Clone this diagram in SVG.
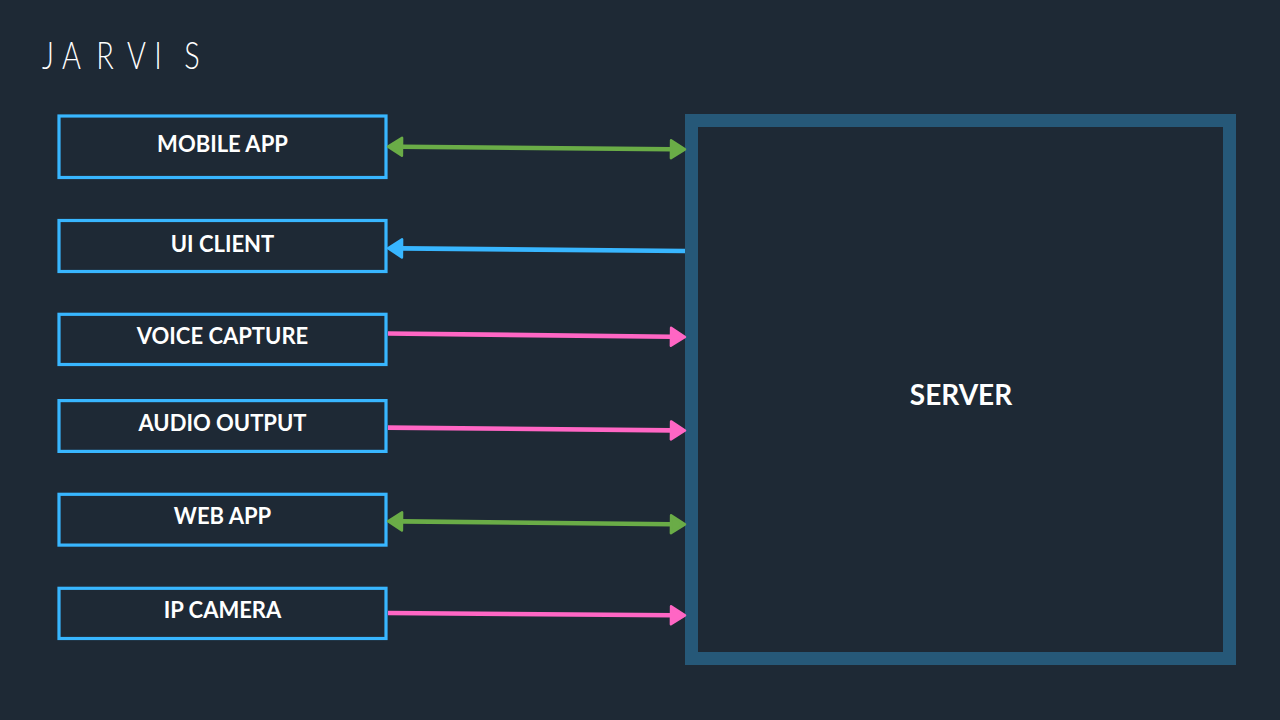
<svg xmlns="http://www.w3.org/2000/svg" width="1280" height="720" viewBox="0 0 1280 720">
  <style>
    .node rect { fill: none; stroke: #38b6ff; stroke-width: 3.2; }
    .label { font-family: "Lato", "Open Sans", "Liberation Sans", sans-serif; font-weight: 700; font-size: 22px; fill: #ffffff; text-anchor: middle; }
    .server-label { font-family: "Lato", "Open Sans", "Liberation Sans", sans-serif; font-weight: 700; font-size: 28px; fill: #ffffff; text-anchor: middle; }
    .logo { font-family: "Lato", "Inter", "Liberation Sans", sans-serif; font-weight: 300; font-size: 37px; fill: #ffffff; text-anchor: middle; }
    .conn { fill: none; stroke-width: 4.6; }
    .green { stroke: #6aac47; }
    .blue { stroke: #38b6ff; }
    .pink { stroke: #ff66c4; }
  </style>
  <defs>
    <marker id="ah-green" viewBox="0 0 18 22" markerUnits="userSpaceOnUse" markerWidth="18" markerHeight="22" refX="2" refY="11" orient="auto-start-reverse">
      <path d="M2,2 L16,11 L2,20 Z" fill="#6aac47" stroke="#6aac47" stroke-width="2.5" stroke-linejoin="round"/>
    </marker>
    <marker id="ah-blue" viewBox="0 0 18 22" markerUnits="userSpaceOnUse" markerWidth="18" markerHeight="22" refX="2" refY="11" orient="auto-start-reverse">
      <path d="M2,2 L16,11 L2,20 Z" fill="#38b6ff" stroke="#38b6ff" stroke-width="2.5" stroke-linejoin="round"/>
    </marker>
    <marker id="ah-pink" viewBox="0 0 18 22" markerUnits="userSpaceOnUse" markerWidth="18" markerHeight="22" refX="2" refY="11" orient="auto-start-reverse">
      <path d="M2,2 L16,11 L2,20 Z" fill="#ff66c4" stroke="#ff66c4" stroke-width="2.5" stroke-linejoin="round"/>
    </marker>
  </defs>

  <rect x="0" y="0" width="1280" height="720" fill="#1e2935"/>

  <text class="logo" transform="scale(0.78,1)" x="61.5 91.7 134.6 175 202.6 246.2" y="69">JARVIS</text>

  <g id="server">
    <rect x="691.5" y="120.5" width="538" height="538" fill="#1e2935" stroke="#265878" stroke-width="13"/>
    <text class="server-label" x="961" y="405">SERVER</text>
  </g>

  <g id="mobile-app" class="node">
    <rect x="59" y="116" width="327" height="61.5"/>
    <text class="label" x="222.5" y="151.5">MOBILE APP</text>
  </g>
  <g id="ui-client" class="node">
    <rect x="59" y="220.5" width="327" height="51"/>
    <text class="label" x="222.5" y="251.5">UI CLIENT</text>
  </g>
  <g id="voice-capture" class="node">
    <rect x="59" y="314.3" width="327" height="50.2"/>
    <text class="label" x="222.5" y="344">VOICE CAPTURE</text>
  </g>
  <g id="audio-output" class="node">
    <rect x="59" y="400.6" width="327" height="50.8"/>
    <text class="label" x="222.5" y="431">AUDIO OUTPUT</text>
  </g>
  <g id="web-app" class="node">
    <rect x="59" y="494.3" width="327" height="50.8"/>
    <text class="label" x="222.5" y="524.2">WEB APP</text>
  </g>
  <g id="ip-camera" class="node">
    <rect x="59" y="588.3" width="327" height="50.2"/>
    <text class="label" x="222.5" y="618.3">IP CAMERA</text>
  </g>

  <g id="connectors">
    <line class="conn green" x1="402" y1="146.8" x2="671" y2="149.2" marker-start="url(#ah-green)" marker-end="url(#ah-green)"/>
    <line class="conn blue" x1="685" y1="251" x2="402" y2="248.4" marker-end="url(#ah-blue)"/>
    <line class="conn pink" x1="388" y1="333.5" x2="671" y2="336.8" marker-end="url(#ah-pink)"/>
    <line class="conn pink" x1="388" y1="427.6" x2="671" y2="430.4" marker-end="url(#ah-pink)"/>
    <line class="conn green" x1="402" y1="521.4" x2="671" y2="524.2" marker-start="url(#ah-green)" marker-end="url(#ah-green)"/>
    <line class="conn pink" x1="388" y1="613" x2="671" y2="615.3" marker-end="url(#ah-pink)"/>
  </g>
</svg>
